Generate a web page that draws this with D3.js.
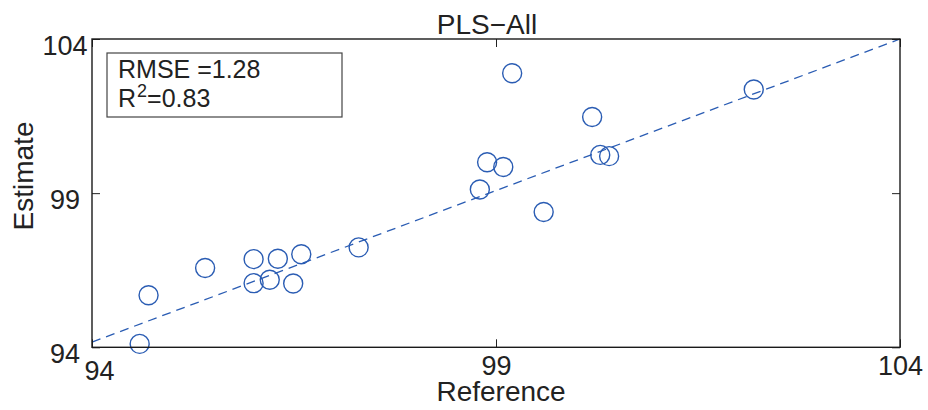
<!DOCTYPE html>
<html>
<head>
<meta charset="utf-8">
<script src="https://cdn.jsdelivr.net/npm/d3@7"></script>
<style>
  html, body { margin: 0; padding: 0; background: #fff; }
  svg { display: block; font-family: "Liberation Sans", Arial, Helvetica, sans-serif; }
</style>
</head>
<body>
<svg id="chart" width="928" height="410"></svg>
<script>
// Reference vs. estimated values (PLS model, all samples)
const reference = [94.59, 94.70, 95.40, 96.00, 96.00, 96.20, 96.30, 96.49, 96.59, 97.30,
                   99.20, 100.19, 98.89, 99.09, 98.80, 99.59, 100.29, 100.40, 102.19];
const estimate  = [94.11, 95.69, 96.57, 96.86, 96.08, 96.19, 96.87, 96.07, 97.02, 97.24,
                   102.89, 101.47, 100.00, 99.85, 99.12, 98.39, 100.24, 100.20, 102.36];
// Fitted line endpoints
const fitX = [94, 104];
const fitY = [94.17, 104.0];
const xTicks = [94, 99, 104];
const yTicks = [94, 99, 104];
const statLines = ["RMSE =1.28", "0.83"];

const svg = d3.select("#chart");
const margin = { left: 92, top: 39, right: 28, bottom: 62.7 };
const W = 928 - margin.left - margin.right;
const H = 410 - margin.top - margin.bottom;
const blue = "#2a5cb3";
const ink = "#222";

const x = d3.scaleLinear().domain([94, 104]).range([0, W]);
const y = d3.scaleLinear().domain([94, 104]).range([H, 0]);

const g = svg.append("g").attr("transform", `translate(${margin.left},${margin.top})`);

// Fit line
g.append("line")
  .attr("x1", x(fitX[0])).attr("y1", y(fitY[0]))
  .attr("x2", x(fitX[1])).attr("y2", y(fitY[1]))
  .attr("stroke", blue).attr("stroke-width", 1.3)
  .attr("stroke-dasharray", "9,6");

// Points
g.selectAll("circle.pt")
  .data(reference.map((r, i) => [r, estimate[i]]))
  .join("circle")
  .attr("class", "pt")
  .attr("cx", d => x(d[0]))
  .attr("cy", d => y(d[1]))
  .attr("r", 9.5)
  .attr("fill", "none")
  .attr("stroke", blue)
  .attr("stroke-width", 1.4);

// Axes (inward ticks)
const fontTick = 27;
const xAxis = g.append("g").attr("transform", `translate(0,${H})`)
  .call(d3.axisBottom(x).tickValues(xTicks).tickFormat(d3.format("d")).tickSize(-8).tickSizeOuter(0));
const xAxisTop = g.append("g")
  .call(d3.axisTop(x).tickValues(xTicks).tickFormat("").tickSize(-8).tickSizeOuter(0));
const yAxis = g.append("g")
  .call(d3.axisLeft(y).tickValues(yTicks).tickFormat(d3.format("d")).tickSize(-8).tickSizeOuter(0));
const yAxisRight = g.append("g").attr("transform", `translate(${W},0)`)
  .call(d3.axisRight(y).tickValues(yTicks).tickFormat("").tickSize(-8).tickSizeOuter(0));

[xAxis, xAxisTop, yAxis, yAxisRight].forEach(a => {
  a.select(".domain").remove();
  a.selectAll(".tick line").attr("stroke", ink).attr("stroke-width", 1);
});
xAxis.selectAll(".tick text")
  .attr("font-size", fontTick).attr("fill", ink).attr("font-family", null)
  .attr("y", 28).attr("dy", 0);
yAxis.selectAll(".tick text")
  .attr("font-size", fontTick).attr("fill", ink).attr("font-family", null)
  .attr("text-anchor", "middle").attr("x", -27).attr("y", 15).attr("dy", 0);
// first x label nudged clear of the y label
xAxis.selectAll(".tick text").filter(d => d === xTicks[0]).attr("dx", 7).attr("y", 33);

// Frame
g.append("rect").attr("x", 0).attr("y", 0).attr("width", W).attr("height", H)
  .attr("fill", "none").attr("stroke", "#1a1a1a").attr("stroke-width", 1.4);

// Title and axis labels
svg.append("text").attr("x", margin.left + W / 2 - 9).attr("y", 34)
  .attr("text-anchor", "middle").attr("font-size", 28).attr("fill", ink).text("PLS\u2212All");
svg.append("text").attr("x", margin.left + W / 2 + 5).attr("y", 401)
  .attr("text-anchor", "middle").attr("font-size", 28).attr("fill", ink).text("Reference");
svg.append("text").attr("transform", "translate(33,176) rotate(-90)")
  .attr("text-anchor", "middle").attr("font-size", 28).attr("fill", ink).text("Estimate");

// Statistics box
const box = g.append("g").attr("transform", "translate(15,14)");
box.append("rect").attr("x", 0).attr("y", 0).attr("width", 235).attr("height", 64)
  .attr("fill", "#fff").attr("stroke", "#444").attr("stroke-width", 1.2);
box.append("text").attr("x", 11).attr("y", 25).attr("font-size", 25).attr("fill", ink).text(statLines[0]);
const t2 = box.append("text").attr("x", 11).attr("y", 54).attr("font-size", 25).attr("fill", ink);
t2.append("tspan").text("R");
t2.append("tspan").attr("font-size", 18).attr("dy", -10).attr("dx", 1).text("2");
t2.append("tspan").attr("dy", 10).text("=" + statLines[1]);
</script>
</body>
</html>
